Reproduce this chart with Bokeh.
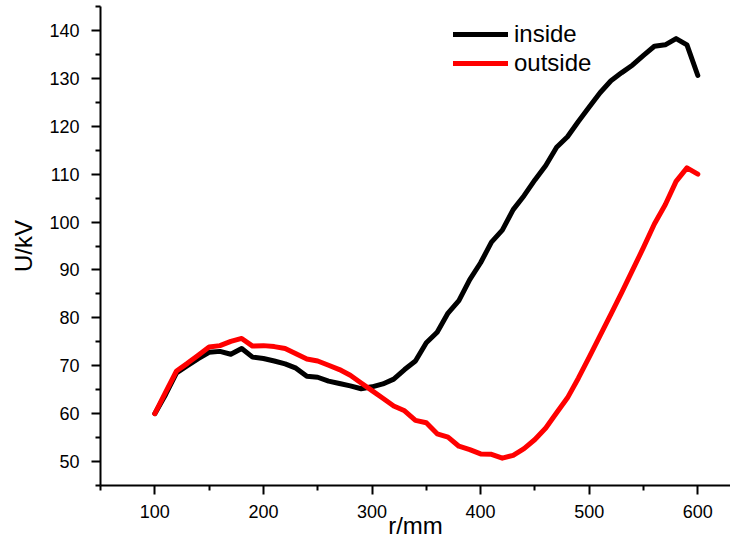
from bokeh.plotting import figure
from bokeh.models import FixedTicker, Legend, LegendItem, Range1d
from bokeh.embed import file_html
from bokeh.resources import INLINE

r_mm = [100, 110, 120, 130, 140, 150, 160, 170, 180, 190,
        200, 210, 220, 230, 240, 250, 260, 270, 280, 290,
        300, 310, 320, 330, 340, 350, 360, 370, 380, 390,
        400, 410, 420, 430, 440, 450, 460, 470, 480, 490,
        500, 510, 520, 530, 540, 550, 560, 570, 580, 590, 600]

inside_kv = [60.0, 64.0, 68.5, 70.0, 71.5, 72.8, 73.0, 72.4, 73.6, 71.8,
             71.5, 71.0, 70.4, 69.5, 67.8, 67.6, 66.8, 66.3, 65.8, 65.2,
             65.6, 66.2, 67.2, 69.2, 71.0, 74.8, 77.0, 81.0, 83.6, 88.0,
             91.5, 95.8, 98.3, 102.6, 105.5, 108.8, 111.8, 115.6, 117.8, 121.0,
             124.0, 127.0, 129.5, 131.2, 132.8, 134.8, 136.7, 137.0, 138.3, 137.0, 130.6]

outside_kv = [60.0, 64.5, 68.9, 70.5, 72.2, 73.9, 74.2, 75.1, 75.7, 74.1,
              74.2, 74.0, 73.6, 72.5, 71.4, 71.0, 70.1, 69.2, 68.0, 66.4,
              64.8, 63.2, 61.6, 60.6, 58.6, 58.1, 55.8, 55.1, 53.2, 52.5,
              51.6, 51.5, 50.7, 51.3, 52.7, 54.6, 57.0, 60.2, 63.3, 67.4,
              71.8, 76.3, 80.8, 85.3, 90.0, 94.7, 99.6, 103.6, 108.5, 111.3, 110.0]

x_major = [100, 200, 300, 400, 500, 600]
x_minor = [50, 150, 250, 350, 450, 550, 650]
y_major = [50, 60, 70, 80, 90, 100, 110, 120, 130, 140]
y_minor = [45, 55, 65, 75, 85, 95, 105, 115, 125, 135, 145]

x_title = "r/mm"
y_title = "U/kV"

FONT = "Liberation Sans"

p = figure(width=730, height=544, output_backend="svg", toolbar_location=None,
           x_range=Range1d(50, 630.1), y_range=Range1d(45, 145),
           min_border_left=100, min_border_right=0, min_border_top=6,
           min_border_bottom=59)
p.outline_line_color = None
p.xgrid.grid_line_color = None
p.ygrid.grid_line_color = None
p.background_fill_color = "white"
p.border_fill_color = "white"

l1 = p.line(r_mm, inside_kv, line_color="black", line_width=5,
            line_join="round", line_cap="round")
l2 = p.line(r_mm, outside_kv, line_color="#ff0000", line_width=5,
            line_join="round", line_cap="round")

for ax in (p.xaxis[0], p.yaxis[0]):
    ax.axis_line_width = 2
    ax.major_tick_line_width = 2
    ax.minor_tick_line_width = 2
    ax.major_tick_out = 9
    ax.major_tick_in = 0
    ax.minor_tick_out = 5
    ax.minor_tick_in = 0
    ax.major_label_text_font = FONT
    ax.major_label_text_font_size = "18px"
    ax.major_label_text_color = "black"
    ax.axis_label_text_font = FONT
    ax.axis_label_text_font_size = "24px"
    ax.axis_label_text_font_style = "normal"
    ax.axis_label_text_color = "black"

p.xaxis[0].ticker = FixedTicker(ticks=x_major, minor_ticks=x_minor)
p.yaxis[0].ticker = FixedTicker(ticks=y_major, minor_ticks=y_minor)
p.xaxis[0].major_label_standoff = 10
p.yaxis[0].major_label_standoff = 12
p.xaxis[0].axis_label = x_title
p.xaxis[0].axis_label_standoff = -9
p.yaxis[0].axis_label = y_title
p.yaxis[0].axis_label_standoff = 9

legend = Legend(items=[LegendItem(label="inside", renderers=[l1]),
                       LegendItem(label="outside", renderers=[l2])],
                location=(353, 408), orientation="vertical",
                glyph_width=55, glyph_height=24, label_height=24, spacing=1,
                label_standoff=6, padding=0, margin=0,
                border_line_color=None, background_fill_alpha=0,
                label_text_font=FONT, label_text_font_size="24px",
                label_text_color="black")
p.add_layout(legend)

open("out.html", "w").write(file_html(p, INLINE))
